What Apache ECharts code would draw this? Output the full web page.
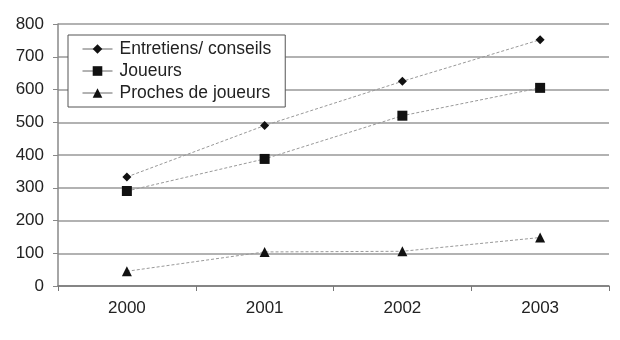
<!DOCTYPE html>
<html>
<head>
<meta charset="utf-8">
<script src="https://cdn.jsdelivr.net/npm/echarts@6/dist/echarts.min.js"></script>
<style>html,body{margin:0;padding:0;background:#fff;}#c{width:620px;height:340px;}</style>
</head>
<body>
<div id="c"></div>
<script>
const categories = ['2000', '2001', '2002', '2003'];
const entretiens = [333, 490, 625, 752];
const joueurs = [290, 388, 520, 605];
const proches = [45, 104, 106, 148];
const seriesNames = ['Entretiens/ conseils', 'Joueurs', 'Proches de joueurs'];

const chart = echarts.init(document.getElementById('c'), null, {renderer: 'canvas'});
const lineStyle = {color: '#999', width: 1, type: [3, 2]};
const itemStyle = {color: '#111'};
chart.setOption({
  animation: false,
  backgroundColor: '#fff',
  grid: {left: 58, right: 11, top: 24, bottom: 54},
  legend: {
    orient: 'vertical', left: 68, top: 35,
    padding: [5, 14, 5, 14],
    itemGap: 4,
    itemWidth: 30, itemHeight: 12,
    borderColor: '#555', borderWidth: 1,
    backgroundColor: '#fff',
    lineStyle: {type: 'solid', color: '#666', width: 1},
    textStyle: {fontFamily: 'Liberation Sans', fontSize: 17.5, color: '#222', padding: [0, 0, 0, 2]},
    data: seriesNames
  },
  xAxis: {
    type: 'category', data: categories, boundaryGap: true,
    axisLine: {lineStyle: {color: '#777', width: 1.5}},
    axisTick: {show: true, length: 5, lineStyle: {color: '#777'}},
    axisLabel: {fontFamily: 'Liberation Sans', fontSize: 17, color: '#222', margin: 14}
  },
  yAxis: {
    type: 'value', min: 0, max: 800, interval: 100,
    axisLine: {show: true, lineStyle: {color: '#888', width: 1.5}},
    axisTick: {show: true, length: 5, lineStyle: {color: '#888'}},
    axisLabel: {fontFamily: 'Liberation Sans', fontSize: 17, color: '#222', margin: 14},
    splitLine: {lineStyle: {color: '#999', width: 1.5}}
  },
  series: [
    {name: seriesNames[0], type: 'line', data: entretiens, symbol: 'diamond', symbolSize: 9, lineStyle, itemStyle},
    {name: seriesNames[1], type: 'line', data: joueurs, symbol: 'rect', symbolSize: 10, lineStyle, itemStyle},
    {name: seriesNames[2], type: 'line', data: proches, symbol: 'triangle', symbolSize: 10, lineStyle, itemStyle}
  ]
});
</script>
</body>
</html>
